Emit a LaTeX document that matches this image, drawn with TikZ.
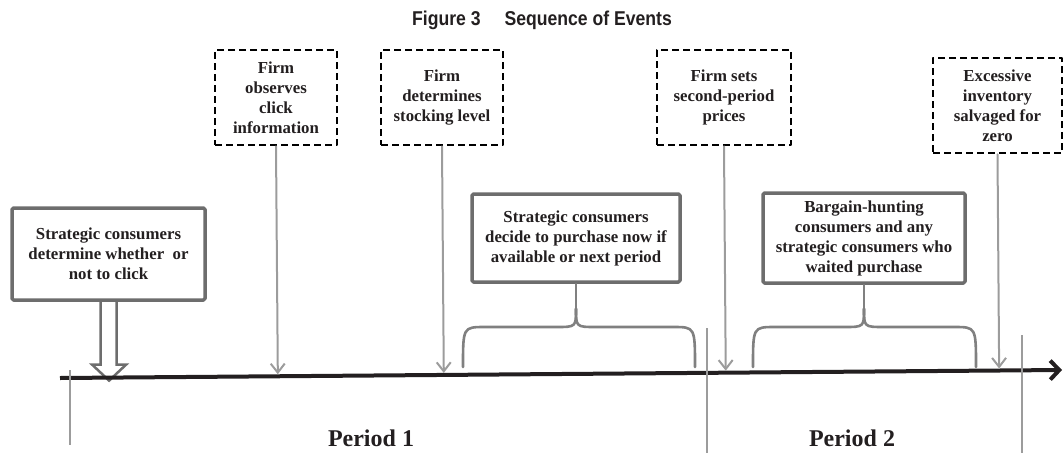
\documentclass[tikz,border=0pt]{standalone}
\usepackage{fontspec}
\setmainfont{Liberation Serif}
\newfontfamily\figfont[FakeStretch=0.88]{Liberation Sans}
\usetikzlibrary{arrows.meta,calc}

\definecolor{boxgray}{HTML}{6D6D6D}
\definecolor{bracegray}{HTML}{808080}
\definecolor{linegray}{HTML}{9C9C9C}
\definecolor{inkblack}{HTML}{231F20}

\tikzset{
  event/.style={draw=black,line width=2.9pt,line cap=butt,dash pattern=on 7pt off 4pt,align=center},
  stage/.style={draw=boxgray,line width=3.5pt,rounded corners=1.5pt,fill=white,align=center},
  evarrow/.style={draw=linegray,line width=2pt,-{Straight Barb[length=9pt,width=14pt]}},
  hollow/.style={draw=boxgray,line width=2.5pt,line join=miter},
  brace/.style={draw=bracegray,line width=2.6pt},
  periodtick/.style={draw=linegray,line width=2.2pt,line cap=butt},
  periodlabel/.style={font=\bfseries\fontsize{24}{28}\selectfont,anchor=base}
}

\begin{document}
\begin{tikzpicture}[x=1pt,y=-1pt,line cap=round,line join=round,
  every node/.style={inner sep=1pt,text=inkblack,font=\bfseries\fontsize{16.8}{20}\selectfont}]
  \useasboundingbox (0,0) rectangle (1063,453);
  \node[font=\figfont\bfseries\fontsize{20}{24}\selectfont,anchor=base] (title) at (542,25) {Figure 3\hspace{1.2em}Sequence of Events};

  \node[event,minimum width=122pt,minimum height=95pt] (observe) at (276,97.5) {Firm\\observes\\click\\information};
  \node[event,minimum width=122pt,minimum height=95pt] (stock) at (442,97.5) {Firm\\determines\\stocking level};
  \node[event,minimum width=134pt,minimum height=95pt] (prices) at (724,97.5) {Firm sets\\second-period\\prices};
  \node[event,minimum width=129pt,minimum height=95pt] (salvage) at (997.5,105.5) {Excessive\\inventory\\salvaged for\\zero};

  \node[stage,minimum width=193pt,minimum height=92pt] (click) at (108.5,254) {Strategic consumers\\determine whether\ \ or\\not to click};
  \node[stage,minimum width=208pt,minimum height=88pt] (decide) at (576,238) {Strategic consumers\\decide to purchase now if\\available or next period};
  \node[stage,minimum width=202pt,minimum height=90pt] (bargain) at (864,238) {Bargain-hunting\\consumers and any\\strategic consumers who\\waited purchase};

  \coordinate (tl0) at (60,378);
  \coordinate (tl1) at (1062,370);
  \coordinate (clicktip) at ($(tl0)!(click.south)!(tl1)+(0,3)$);
  \draw[hollow] ($(click.south)+(-8,0)$) |- ($(clicktip)+(-17,-16)$) -- (clicktip)
    -- ($(clicktip)+(17,-16)$) -| ($(click.south)+(8,0)$);

  \draw[inkblack,line width=4pt,line cap=butt,-{Straight Barb[length=9pt,width=19pt]}] (tl0) -- (tl1);

  \draw[evarrow] (observe.south) -- ($(tl0)!(observe.south)!(tl1)+(0,-2)$);
  \draw[evarrow] (stock.south) -- ($(tl0)!(stock.south)!(tl1)+(0,-2)$);
  \draw[evarrow] (prices.south) -- ($(tl0)!(prices.south)!(tl1)+(0,-2)$);
  \draw[evarrow] (salvage.south) -- ($(tl0)!(salvage.south)!(tl1)+(0,-2)$);

  \coordinate (decidecusp) at ($(decide.south)+(0,25)$);
  \draw[brace] (463,367) .. controls (463,327) .. (485,327) -- (556,327) .. controls (576,327) .. (decidecusp);
  \draw[brace] (695,367) .. controls (695,327) .. (673,327) -- (596,327) .. controls (576,327) .. (decidecusp);
  \draw[brace,line width=2pt] (decidecusp) -- (decide.south);
  \coordinate (bargaincusp) at ($(bargain.south)+(0,24)$);
  \draw[brace] (753,367) .. controls (753,327) .. (775,327) -- (844,327) .. controls (864,327) .. (bargaincusp);
  \draw[brace] (976,367) .. controls (976,327) .. (954,327) -- (884,327) .. controls (864,327) .. (bargaincusp);
  \draw[brace,line width=2pt] (bargaincusp) -- (bargain.south);

  \draw[periodtick] (70,370) -- (70,445);
  \draw[periodtick] (707,328) -- (707,453);
  \draw[periodtick] (1022,335) -- (1022,453);

  \node[periodlabel] (period1) at (371,446) {Period 1};
  \node[periodlabel] (period2) at (852,446) {Period 2};
\end{tikzpicture}
\end{document}
